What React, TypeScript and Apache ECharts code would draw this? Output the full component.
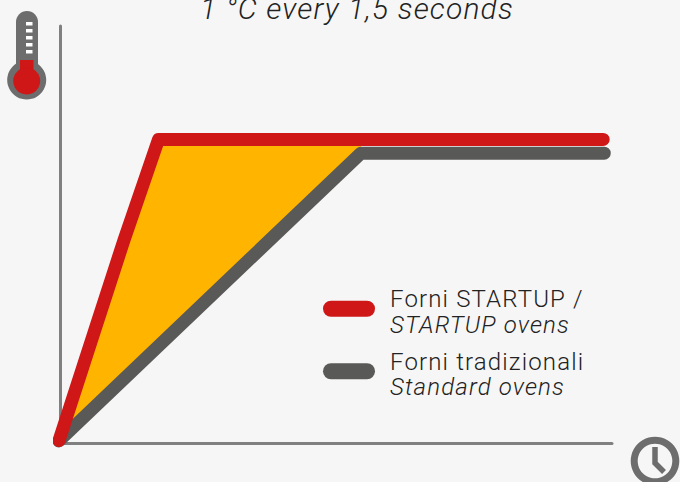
import React, { useEffect, useRef } from "react";
import * as echarts from "echarts";

const titleText = "1 °C every 1,5 seconds";
const startupName = "Forni STARTUP /";
const startupNameEn = "STARTUP ovens";
const standardName = "Forni tradizionali";
const standardNameEn = "Standard ovens";

const startupLine = [[-0.18, 0.6], [11.6, 48.7], [17.85, 72.8], [98.4, 72.8]];
const standardLine = [[-0.18, 0.5], [54.5, 69.5], [98.6, 69.5]];
const gapArea = [...startupLine.slice(0, 3), [54.5, 72.8], [54.5, 69.5], [-0.18, 0.5]];

const RED = "#cf1717";
const DARK = "#595958";
const YELLOW = "#ffb400";
const AXIS = "#808080";
const ICON = "#6d6d6d";
const BG = "#f6f6f6";
const TEXT = "#222222";
const pill = "path://M8 0H44A8 8 0 0 1 44 16H8A8 8 0 0 1 8 0Z";
const FONT = "Roboto";

export default function App() {
  const ref = useRef<HTMLDivElement>(null);
  useEffect(() => {
    const chart = echarts.init(ref.current!, undefined, { renderer: "svg" });
    const rich = {
      a: { fontFamily: FONT, fontWeight: 300, fontSize: 24, lineHeight: 25.5, color: TEXT },
      b: { fontFamily: FONT, fontWeight: 300, fontStyle: "italic", fontSize: 24, lineHeight: 25.5, color: TEXT },
    };
    chart.setOption({
      animation: false,
      backgroundColor: BG,
      title: {
        text: titleText,
        left: 195,
        top: -12,
        textStyle: { fontFamily: FONT, fontWeight: 300, fontStyle: "italic", fontSize: 30, color: TEXT },
      },
      grid: { left: 60, top: 26, width: 552, height: 417 },
      xAxis: {
        type: "value", min: 0, max: 100,
        axisLine: { show: true, onZero: false, lineStyle: { color: AXIS, width: 3 } },
        axisTick: { show: false }, axisLabel: { show: false }, splitLine: { show: false },
      },
      yAxis: {
        type: "value", min: 0, max: 100,
        axisLine: { show: true, onZero: false, lineStyle: { color: AXIS, width: 3 } },
        axisTick: { show: false }, axisLabel: { show: false }, splitLine: { show: false },
      },
      legend: {
        orient: "vertical",
        left: 318,
        top: 282,
        itemWidth: 52,
        itemHeight: 16,
        itemGap: 13,
        icon: pill,
        selectedMode: false,
        data: [startupName, standardName],
        formatter: (n: string) =>
          n === startupName ? `{a|${startupName}}\n{b|${startupNameEn}}` : `{a|${standardName}}\n{b|${standardNameEn}}`,
        textStyle: { rich, padding: [6, 0, 0, 10] },
      },
      series: [
        {
          type: "custom",
          silent: true,
          clip: false,
          coordinateSystem: "cartesian2d",
          data: [gapArea[0]],
          renderItem: (_p: any, api: any) => ({
            type: "polygon",
            shape: { points: gapArea.map((d) => api.coord(d)) },
            style: { fill: YELLOW },
          }),
          z: 1,
        },
        {
          name: standardName, type: "line", data: standardLine, clip: false, symbol: "none", silent: true, z: 2,
          itemStyle: { color: DARK },
          lineStyle: { color: DARK, width: 13, cap: "round", join: "round" },
        },
        {
          name: startupName, type: "line", data: startupLine, clip: false, symbol: "none", silent: true, z: 3,
          itemStyle: { color: RED },
          lineStyle: { color: RED, width: 13, cap: "round", join: "round" },
        },
      ],
      graphic: [
        { type: "rect", shape: { x: 16, y: 11, width: 22, height: 70, r: 11 }, style: { fill: ICON } },
        { type: "circle", shape: { cx: 26.7, cy: 80, r: 19.5 }, style: { fill: ICON } },
        { type: "rect", shape: { x: 26, y: 22, width: 6.5, height: 3.5 }, style: { fill: "#fff" } },
        { type: "rect", shape: { x: 26, y: 29, width: 6.5, height: 3.5 }, style: { fill: "#fff" } },
        { type: "rect", shape: { x: 26, y: 36, width: 6.5, height: 3.5 }, style: { fill: "#fff" } },
        { type: "rect", shape: { x: 26, y: 43, width: 6.5, height: 3.5 }, style: { fill: "#fff" } },
        { type: "rect", shape: { x: 26, y: 50, width: 6.5, height: 3.5 }, style: { fill: "#fff" } },
        { type: "rect", shape: { x: 20, y: 60, width: 13.5, height: 20 }, style: { fill: RED } },
        { type: "circle", shape: { cx: 26.7, cy: 81, r: 13.5 }, style: { fill: RED } },
        { type: "ring", shape: { cx: 655, cy: 461, r: 24.3, r0: 17.3 }, style: { fill: ICON } },
        {
          type: "polyline",
          shape: { points: [[655, 447], [655, 463], [664, 472]] },
          style: { stroke: ICON, fill: "none", lineWidth: 5.5 },
        },
      ],
    });
    return () => chart.dispose();
  }, []);
  return (
    <div style={{ position: "fixed", left: 0, top: 0, width: 680, height: 482, overflow: "hidden", background: BG }}>
      <style>{"svg text{letter-spacing:1.15px}"}</style>
      <div ref={ref} style={{ width: 680, height: 482 }} />
    </div>
  );
}
